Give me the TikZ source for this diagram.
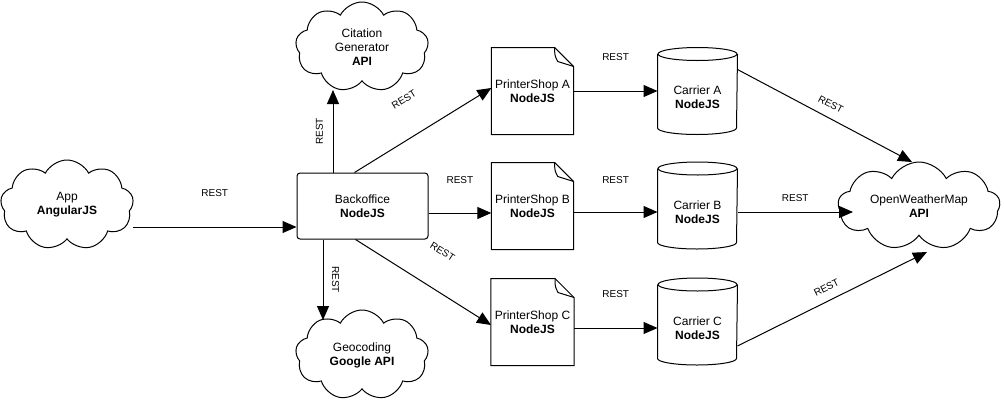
\documentclass[tikz,border=0pt]{standalone}
\usepackage{fontspec}
\setmainfont{Liberation Sans}
\usetikzlibrary{shapes.symbols}
\usetikzlibrary{arrows.meta}
\tikzset{box label/.style={font=\fontsize{12}{14}\selectfont, align=center}}
\tikzset{rest label/.style={font=\fontsize{10}{12}\selectfont, inner sep=0, sloped, midway}}
\tikzset{service/.style={box label, cloud, cloud puffs=9, cloud puff arc=125, cloud ignores aspect, draw, inner sep=0}}
\tikzset{call/.style={-{Triangle[length=14pt,width=12pt]}, line width=1pt}}

\begin{document}
\begin{tikzpicture}[x=1pt, y=-1pt, line width=1pt]

  \def\docFold{19pt}
  \def\cylRy{6.5pt}
  \def\cylRx{39.5pt}

  \useasboundingbox (0,0) rectangle (1004,402);

  % clouds
  \node[service, minimum width=133pt, minimum height=90pt] (app) at (67,205) {App\\\textbf{AngularJS}};
  \node[service, minimum width=133pt, minimum height=90pt] (cit) at (362,47) {Citation\\Generator\\\textbf{API}};
  \node[service, minimum width=133pt, minimum height=90pt] (geo) at (362,355) {Geocoding\\\textbf{Google API}};
  \node[service, minimum width=162pt, minimum height=88pt] (owm) at (919,206) {OpenWeatherMap\\\textbf{API}};

  \node[box label, draw, rounded corners=3pt, minimum width=131pt, minimum height=66pt] (bo) at (362.5,206) {Backoffice\\\textbf{NodeJS}};

  % printer shops
  \node[box label, minimum width=79pt, minimum height=86pt] (psA) at (532.5,91) {PrinterShop A\\\textbf{NodeJS}};
  \node[box label, minimum width=79pt, minimum height=86pt] (psB) at (532.5,206) {PrinterShop B\\\textbf{NodeJS}};
  \node[box label, minimum width=79pt, minimum height=86pt] (psC) at (532.5,322) {PrinterShop C\\\textbf{NodeJS}};
  \foreach \n in {psA,psB,psC}{
    \draw (\n.north west) -- ([xshift=-\docFold]\n.north east) -- ([yshift=-\docFold]\n.north east)
          -- (\n.south east) -- (\n.south west) -- cycle;
    \draw ([xshift=-\docFold]\n.north east) .. controls ([xshift=-19pt,yshift=-8pt]\n.north east)
          .. ([xshift=-16pt,yshift=-14pt]\n.north east) -- ([yshift=-\docFold]\n.north east);
  }

  % carriers
  \node[box label, minimum width=79pt, minimum height=73pt] (carA) at (697.5,97.5) {Carrier A\\\textbf{NodeJS}};
  \node[box label, minimum width=79pt, minimum height=73pt] (carB) at (697.5,212) {Carrier B\\\textbf{NodeJS}};
  \node[box label, minimum width=79pt, minimum height=73pt] (carC) at (697.5,328) {Carrier C\\\textbf{NodeJS}};
  \foreach \n in {carA,carB,carC}{
    \draw ([yshift=\cylRy]\n.north west) -- ([yshift=\cylRy]\n.south west)
          arc[start angle=180, end angle=360, x radius=\cylRx, y radius=\cylRy]
          -- ([yshift=\cylRy]\n.north east);
    \draw ([yshift=\cylRy]\n.north) ellipse [x radius=\cylRx, y radius=\cylRy];
  }

  % where the calls meet the clouds
  \coordinate (appOut) at ([xshift=66pt,yshift=-22pt]app.center);
  \coordinate (citIn) at ([xshift=-29pt,yshift=-43pt]cit.center);
  \coordinate (geoIn) at ([xshift=-39pt,yshift=35pt]geo.center);
  \coordinate (owmInA) at ([xshift=-7pt,yshift=44pt]owm.center);
  \coordinate (owmInB) at ([xshift=-66pt,yshift=-7pt]owm.center);
  \coordinate (owmInC) at ([xshift=8pt,yshift=-46pt]owm.center);

  % calls
  \draw[call] (appOut) -- (appOut -| bo.west) node[rest label, above=30pt] {REST};
  \draw[call] (bo.north -| citIn) -- (citIn) node[rest label, above=9.5pt] {REST};
  \draw[call] (bo.south -| geoIn) -- (geoIn) node[rest label, above=8.5pt] {REST};
  \draw[call] ([xshift=-8pt]bo.north) -- ([yshift=3pt]psA.west) node[rest label, above=32pt] {REST};
  \draw[call] ([yshift=-7pt]bo.east) -- ([yshift=-7pt]psB.west) node[rest label, above=29pt] {REST};
  \draw[call] ([xshift=-7pt]bo.south) -- ([yshift=-3pt]psC.west) node[rest label, above=32pt] {REST};

  \draw[call] (psA.east) -- (carA.west |- psA.east) node[rest label, above=30pt] {REST};
  \draw[call] (psB.east |- carB.west) -- (carB.west) node[rest label, above=28pt] {REST};
  \draw[call] (psC.east |- carC.west) -- (carC.west) node[rest label, above=30pt] {REST};

  \draw[call] ([yshift=-9pt]carA.north east) -- (owmInA) node[rest label, above=9pt] {REST};
  \draw[call] (carB.east) -- (carB.east -| owmInB) node[rest label, above=10pt] {REST};
  \draw[call] ([yshift=19pt]carC.south east) -- (owmInC) node[rest label, above=9pt] {REST};

\end{tikzpicture}
\end{document}
